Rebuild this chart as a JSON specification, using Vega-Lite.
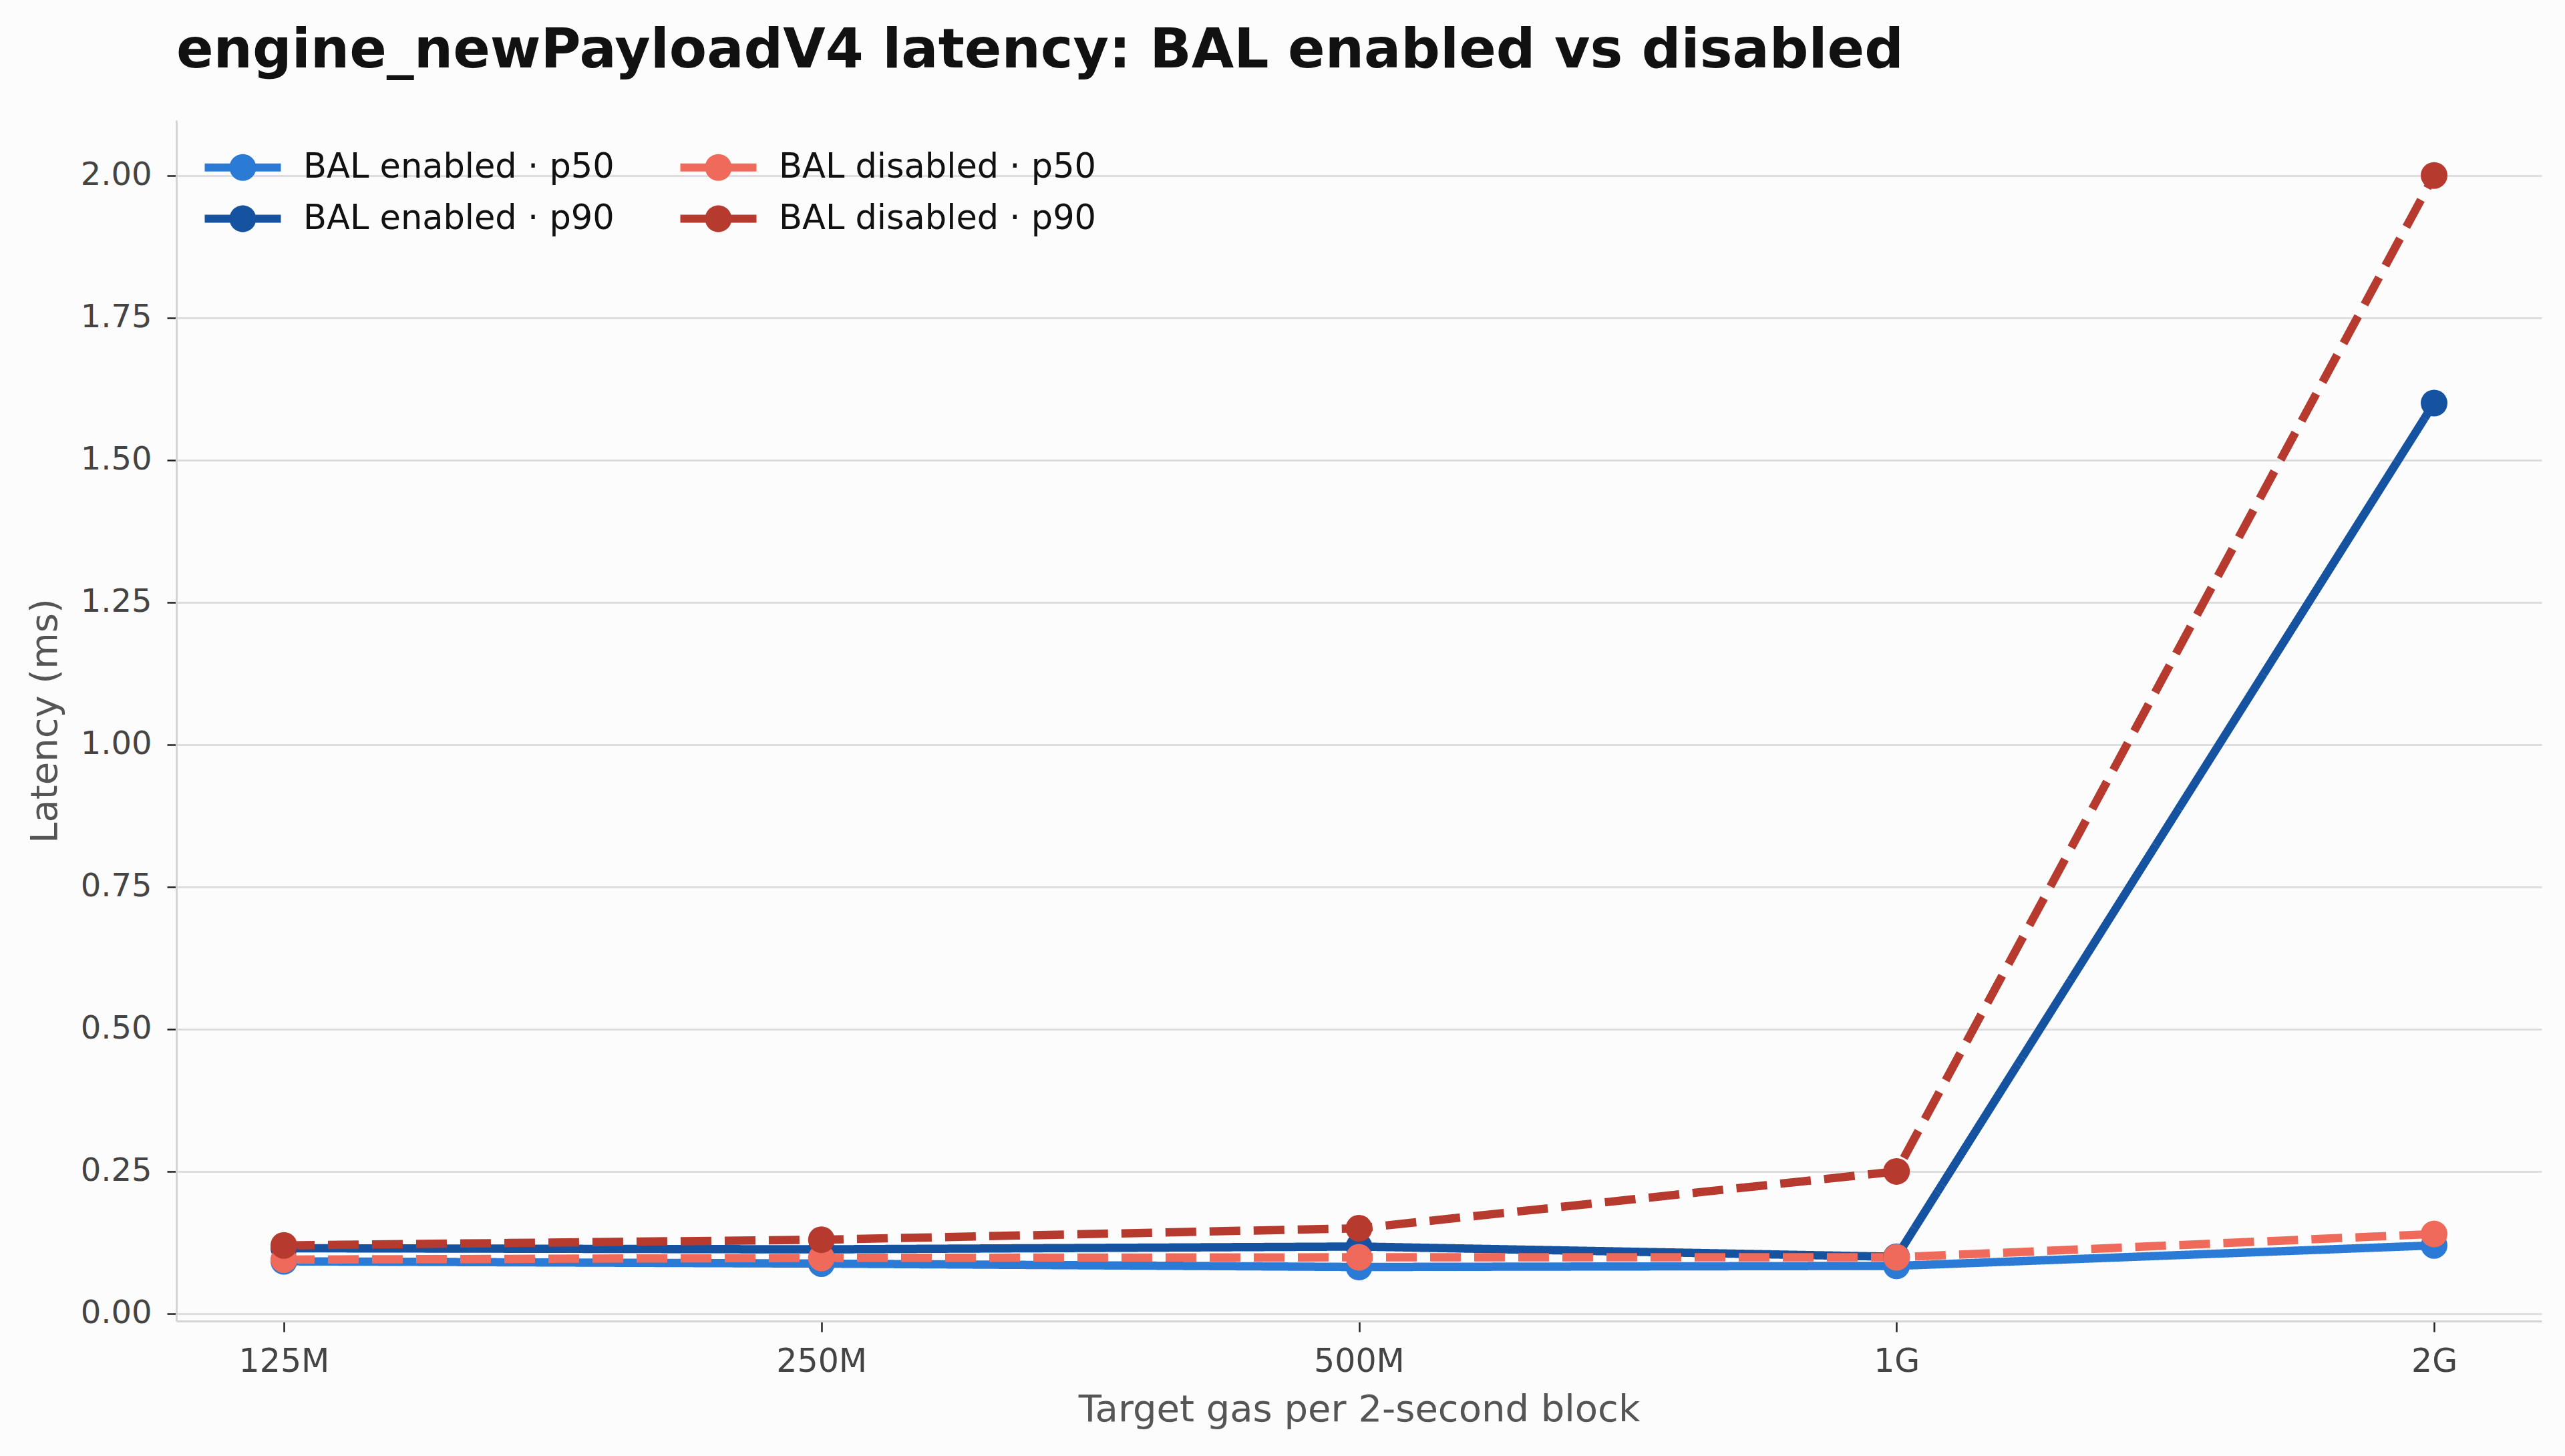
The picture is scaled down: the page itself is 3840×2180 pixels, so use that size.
{
  "$schema": "https://vega.github.io/schema/vega-lite/v6.json",
  "autosize": "none",
  "width": 3541,
  "height": 1798,
  "padding": {"left": 264, "top": 180, "right": 35, "bottom": 202},
  "background": "#fcfcfc",
  "title": {
    "text": "engine_newPayloadV4 latency: BAL enabled vs disabled",
    "anchor": "start",
    "frame": "group",
    "font": "DejaVu Sans",
    "fontSize": 82,
    "fontWeight": "bold",
    "color": "#111111",
    "offset": 62
  },
  "config": {
    "view": {"stroke": null},
    "font": "DejaVu Sans"
  },
  "data": {
    "values": [
      {"gas": "125M", "series": "BAL enabled · p50", "mode": "enabled", "latency": 0.092},
      {"gas": "250M", "series": "BAL enabled · p50", "mode": "enabled", "latency": 0.088},
      {"gas": "500M", "series": "BAL enabled · p50", "mode": "enabled", "latency": 0.082},
      {"gas": "1G", "series": "BAL enabled · p50", "mode": "enabled", "latency": 0.084},
      {"gas": "2G", "series": "BAL enabled · p50", "mode": "enabled", "latency": 0.12},
      {"gas": "125M", "series": "BAL enabled · p90", "mode": "enabled", "latency": 0.115},
      {"gas": "250M", "series": "BAL enabled · p90", "mode": "enabled", "latency": 0.113},
      {"gas": "500M", "series": "BAL enabled · p90", "mode": "enabled", "latency": 0.118},
      {"gas": "1G", "series": "BAL enabled · p90", "mode": "enabled", "latency": 0.1},
      {"gas": "2G", "series": "BAL enabled · p90", "mode": "enabled", "latency": 1.6},
      {"gas": "125M", "series": "BAL disabled · p50", "mode": "disabled", "latency": 0.095},
      {"gas": "250M", "series": "BAL disabled · p50", "mode": "disabled", "latency": 0.098},
      {"gas": "500M", "series": "BAL disabled · p50", "mode": "disabled", "latency": 0.099},
      {"gas": "1G", "series": "BAL disabled · p50", "mode": "disabled", "latency": 0.099},
      {"gas": "2G", "series": "BAL disabled · p50", "mode": "disabled", "latency": 0.14},
      {"gas": "125M", "series": "BAL disabled · p90", "mode": "disabled", "latency": 0.12},
      {"gas": "250M", "series": "BAL disabled · p90", "mode": "disabled", "latency": 0.13},
      {"gas": "500M", "series": "BAL disabled · p90", "mode": "disabled", "latency": 0.15},
      {"gas": "1G", "series": "BAL disabled · p90", "mode": "disabled", "latency": 0.25},
      {"gas": "2G", "series": "BAL disabled · p90", "mode": "disabled", "latency": 2.0}
    ]
  },
  "encoding": {
    "x": {
      "field": "gas",
      "type": "ordinal",
      "sort": ["125M", "250M", "500M", "1G", "2G"],
      "scale": {"type": "point", "padding": 0.2},
      "axis": {
        "title": "Target gas per 2-second block",
        "titleFontSize": 56,
        "titleFontWeight": "normal",
        "titleColor": "#555555",
        "titlePadding": 20,
        "labelAngle": 0,
        "labelFontSize": 49,
        "labelColor": "#444444",
        "labelPadding": 20,
        "grid": false,
        "ticks": true,
        "tickSize": 16,
        "tickWidth": 2.5,
        "tickColor": "#222222",
        "domainColor": "#d4d4d4",
        "domainWidth": 3
      }
    },
    "y": {
      "field": "latency",
      "type": "quantitative",
      "scale": {"domain": [-0.013, 2.097], "nice": false, "zero": false},
      "axis": {
        "title": "Latency (ms)",
        "titleFontSize": 56,
        "titleFontWeight": "normal",
        "titleColor": "#555555",
        "titlePadding": 24,
        "values": [0, 0.25, 0.5, 0.75, 1.0, 1.25, 1.5, 1.75, 2.0],
        "format": ".2f",
        "labelFontSize": 48,
        "labelColor": "#444444",
        "labelPadding": 23,
        "grid": true,
        "gridColor": "#dedede",
        "gridWidth": 3,
        "ticks": true,
        "tickSize": 14,
        "tickWidth": 2.5,
        "tickColor": "#222222",
        "domainColor": "#d4d4d4",
        "domainWidth": 3
      }
    },
    "color": {
      "field": "series",
      "type": "nominal",
      "scale": {
        "domain": ["BAL enabled · p50", "BAL enabled · p90", "BAL disabled · p50", "BAL disabled · p90"],
        "range": ["#2a7ad6", "#1553a1", "#ef6a5a", "#b73a2f"]
      },
      "legend": {
        "title": null,
        "orient": "none",
        "legendX": 74,
        "legendY": 45,
        "padding": 0,
        "columns": 2,
        "columnPadding": 98,
        "rowPadding": 25,
        "symbolType": "M-2.85,-0.3H-0.9V0.3H-2.85Z M0.9,-0.3H2.85V0.3H0.9Z M1,0A1,1 0 1,1 -1,0A1,1 0 1,1 1,0Z",
        "symbolSize": 1600,
        "symbolStrokeWidth": 0,
        "labelOffset": 65,
        "labelFont": "DejaVu Sans",
        "labelFontSize": 51,
        "labelColor": "#111111",
        "labelLimit": 1000,
        "encode": {
          "symbols": {
            "update": {
              "fill": {"scale": "color", "field": "value"},
              "stroke": {"value": "transparent"},
              "opacity": {"value": 1}
            }
          }
        }
      }
    }
  },
  "layer": [
    {
      "mark": {"type": "line", "strokeWidth": 12.5, "strokeJoin": "round"},
      "encoding": {
        "strokeDash": {
          "field": "mode",
          "type": "nominal",
          "scale": {"domain": ["enabled", "disabled"], "range": [[1, 0], [46, 20]]},
          "legend": null
        }
      }
    },
    {
      "mark": {"type": "point", "filled": true, "size": 1600, "opacity": 1, "shape": "circle"}
    }
  ]
}
